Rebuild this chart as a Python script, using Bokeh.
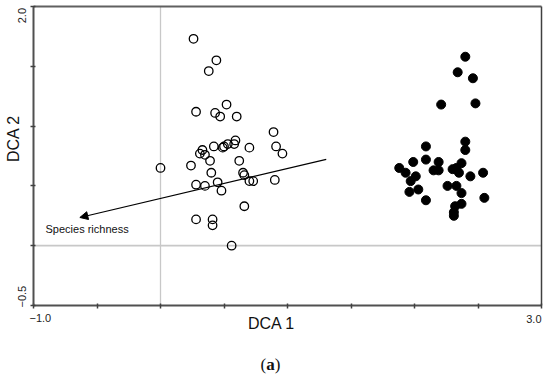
import math
from bokeh.plotting import figure
from bokeh.models import Range1d, FixedTicker, Label, Arrow, NormalHead, LinearAxis
from bokeh.embed import file_html
from bokeh.resources import INLINE

# ---- data ----
open_x = [0.26, 0.44, 0.38, 0.52, 0.28, 0.43, 0.47, 0.60, 0.89, 0.59, 0.58, 0.53, 0.50, 0.49,
          0.42, 0.33, 0.31, 0.35, 0.39, 0.70, 0.91, 0.96, 0.00, 0.24, 0.62, 0.40, 0.65, 0.66,
          0.70, 0.73, 0.90, 0.28, 0.35, 0.45, 0.48, 0.66, 0.28, 0.41, 0.41, 0.56]
open_y = [1.73, 1.55, 1.46, 1.18, 1.12, 1.11, 1.08, 1.08, 0.95, 0.88, 0.85, 0.85, 0.83, 0.82,
          0.83, 0.80, 0.77, 0.76, 0.71, 0.82, 0.83, 0.77, 0.65, 0.67, 0.71, 0.61, 0.61, 0.59,
          0.54, 0.54, 0.55, 0.51, 0.50, 0.53, 0.46, 0.33, 0.22, 0.22, 0.17, 0.00]

closed_x = [2.40, 2.34, 2.46, 2.21, 2.48, 2.40, 2.40, 2.09, 2.09, 1.99, 1.88, 1.93, 2.01, 1.97,
            2.03, 1.96, 2.09, 2.15, 2.19, 2.19, 2.30, 2.33, 2.37, 2.35, 2.44, 2.54, 2.26, 2.33,
            2.37, 2.55, 2.37, 2.32, 2.31, 2.31]
closed_y = [1.58, 1.45, 1.40, 1.18, 1.19, 0.87, 0.80, 0.83, 0.72, 0.70, 0.65, 0.61, 0.58, 0.54,
            0.47, 0.45, 0.38, 0.63, 0.70, 0.63, 0.64, 0.65, 0.69, 0.61, 0.58, 0.61, 0.50, 0.50,
            0.44, 0.40, 0.35, 0.33, 0.28, 0.25]

# environmental vector (species richness)
arrow_start = (1.305, 0.722)
arrow_end = (-0.635, 0.236)
arrow_label = "Species richness"

x_lo, x_hi = -1.0, 3.0
y_lo, y_hi = -0.5, 2.0
x_ticks = [-1.0, -0.5, 0.0, 0.5, 1.0, 1.5, 2.0, 2.5, 3.0]
y_ticks = [-0.5, 0.0, 0.5, 1.0, 1.5, 2.0]
x_min_label, x_max_label = "\u22121.0", "3.0"
y_min_label, y_max_label = "\u22120.5", "2.0"
x_title, y_title = "DCA 1", "DCA 2"

# ---- layout (pixels) ----
W, H = 550, 379
BOX_L, BOX_R, BOX_T, BOX_B = 33, 541, 6, 305
sx = (BOX_R - BOX_L) / (x_hi - x_lo)
sy = (BOX_B - BOX_T) / (y_hi - y_lo)
view_x0 = x_lo - BOX_L / sx
view_x1 = view_x0 + W / sx
view_y1 = y_hi + BOX_T / sy
view_y0 = view_y1 - H / sy


def X(px):
    return view_x0 + px / sx


def Y(py):
    return view_y1 - py / sy


SANS = "Liberation Sans"
SERIF = "Liberation Serif"

p = figure(width=W, height=H, output_backend="svg", toolbar_location=None,
           x_range=Range1d(view_x0, view_x1), y_range=Range1d(view_y0, view_y1),
           x_axis_type=None, y_axis_type=None, min_border=0,
           min_border_left=0, min_border_right=0, min_border_top=0, min_border_bottom=0)
p.background_fill_color = "white"
p.border_fill_color = "white"
p.outline_line_color = None
p.grid.visible = False


def style_axis(ax, ticks, color, width):
    ax.ticker = FixedTicker(ticks=ticks)
    ax.axis_line_color = color
    ax.axis_line_width = width
    ax.major_tick_line_color = "#404040"
    ax.major_tick_line_width = 1.5
    ax.major_tick_in = 2
    ax.major_tick_out = 3
    ax.minor_tick_line_color = None
    ax.major_label_overrides = {t: "" for t in ticks}
    ax.major_label_text_font_size = "1px"


xaxis = LinearAxis(fixed_location=y_lo, bounds=(x_lo, x_hi))
style_axis(xaxis, x_ticks, "#505050", 2)
p.add_layout(xaxis, "below")
yaxis = LinearAxis(fixed_location=x_lo, bounds=(y_lo, y_hi))
style_axis(yaxis, y_ticks, "#505050", 2)
p.add_layout(yaxis, "left")
top_axis = LinearAxis(fixed_location=y_hi, bounds=(x_lo, x_hi))
style_axis(top_axis, [], "#606060", 2)
p.add_layout(top_axis, "above")
right_axis = LinearAxis(fixed_location=x_hi, bounds=(y_lo, y_hi))
style_axis(right_axis, [], "#404040", 1.5)
p.add_layout(right_axis, "right")

# reference lines through the origin
p.segment(x0=[0, x_lo], y0=[y_lo, 0], x1=[0, x_hi], y1=[y_hi, 0],
          line_color="#c8c8c8", line_width=[1.3, 1.8])

# points
p.scatter(open_x, open_y, size=8.5, marker="circle", fill_color=None,
          line_color="black", line_width=1.3)
p.scatter(closed_x, closed_y, size=9, marker="circle", fill_color="black",
          line_color="black", line_width=1)

# arrow
p.add_layout(Arrow(end=NormalHead(size=8, fill_color="black", line_color="black", line_width=1),
                   x_start=arrow_start[0], y_start=arrow_start[1],
                   x_end=arrow_end[0], y_end=arrow_end[1],
                   line_color="black", line_width=1.2))
p.add_layout(Label(x=X(45), y=Y(228.5), text=arrow_label, text_font=SANS,
                   text_font_size="11px", text_color="#111111",
                   text_align="left", text_baseline="middle"))

# tick labels (only at the ends)
p.add_layout(Label(x=X(29), y=Y(317), text=x_min_label, text_font=SANS, text_font_size="11px",
                   text_color="#222222", text_align="left", text_baseline="middle"))
p.add_layout(Label(x=X(541), y=Y(318), text=x_max_label, text_font=SANS, text_font_size="11px",
                   text_color="#222222", text_align="right", text_baseline="middle"))
p.add_layout(Label(x=X(21), y=Y(7.5), text=y_max_label, text_font=SANS, text_font_size="11px",
                   text_color="#222222", text_align="right", text_baseline="middle",
                   angle=math.pi / 2))
p.add_layout(Label(x=X(21), y=Y(307), text=y_min_label, text_font=SANS, text_font_size="11px",
                   text_color="#222222", text_align="left", text_baseline="middle",
                   angle=math.pi / 2))

# axis titles
p.add_layout(Label(x=X(271), y=Y(322.5), text=x_title, text_font=SANS, text_font_size="16px",
                   text_color="#111111", text_align="center", text_baseline="middle"))
p.add_layout(Label(x=X(13), y=Y(138), text=y_title, text_font=SANS, text_font_size="16px",
                   text_color="#111111", text_align="center", text_baseline="middle",
                   angle=math.pi / 2))

# panel caption "(a)"
p.add_layout(Label(x=X(265.7), y=Y(364), text="(", text_font=SERIF, text_font_size="17px",
                   text_color="#111111", text_align="right", text_baseline="middle"))
p.add_layout(Label(x=X(270), y=Y(364), text="a", text_font=SERIF, text_font_size="17px",
                   text_font_style="bold", text_color="#111111", text_align="center",
                   text_baseline="middle"))
p.add_layout(Label(x=X(274.3), y=Y(364), text=")", text_font=SERIF, text_font_size="17px",
                   text_color="#111111", text_align="left", text_baseline="middle"))

open("out.html", "w").write(file_html(p, INLINE))
